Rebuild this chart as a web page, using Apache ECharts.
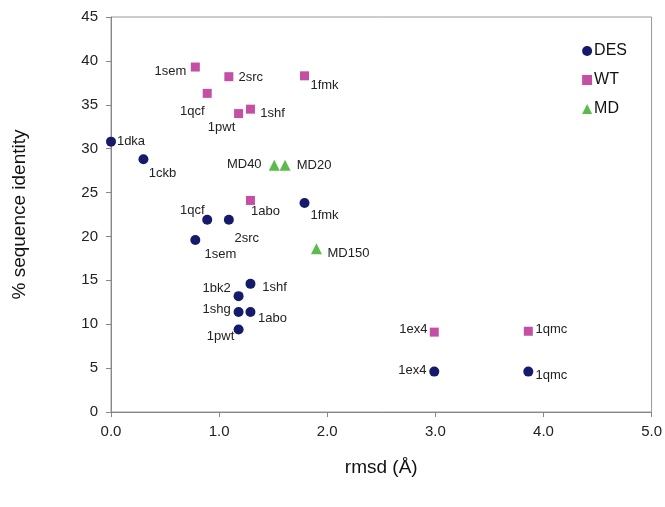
<!DOCTYPE html>
<html><head><meta charset="utf-8">
<script src="https://cdn.jsdelivr.net/npm/echarts@6/dist/echarts.min.js"></script>
<style>html,body{margin:0;padding:0;background:#fff}#c{width:665px;height:507px}</style>
</head><body><div id="c"></div>
<script>
// Data
const desNames = ['1dka','1ckb','1qcf','2src','1sem','1fmk','1bk2','1shf','1shg','1abo','1pwt','1ex4','1qmc'];
const desX = [0.0, 0.30, 0.89, 1.09, 0.78, 1.79, 1.18, 1.29, 1.18, 1.29, 1.18, 2.99, 3.86];
const desY = [30.8, 28.8, 21.9, 21.9, 19.6, 23.8, 13.2, 14.6, 11.4, 11.4, 9.4, 4.6, 4.6];

const wtNames = ['1sem','2src','1fmk','1qcf','1pwt','1shf','1abo','1ex4','1qmc'];
const wtX = [0.78, 1.09, 1.79, 0.89, 1.18, 1.29, 1.29, 2.99, 3.86];
const wtY = [39.3, 38.2, 38.3, 36.3, 34.0, 34.5, 24.1, 9.1, 9.2];

const mdNames = ['MD40','MD20','MD150'];
const mdX = [1.51, 1.61, 1.90];
const mdY = [28.1, 28.1, 18.6];

const xTicks = [0, 1, 2, 3, 4, 5];
const yTicks = [0, 5, 10, 15, 20, 25, 30, 35, 40, 45];

// Label placement (pixel offsets from marker centre)
const desLabelOff = {'1dka':[20,0],'1ckb':[19,14],'1qcf':[-15,-9],'2src':[18,19],'1sem':[25,14],'1fmk':[20,12],
  '1bk2':[-22,-8],'1shf':[24,4],'1shg':[-22,-3],'1abo':[22,6],'1pwt':[-18,7],'1ex4':[-22,-1],'1qmc':[23,4]};
const wtLabelOff = {'1sem':[-25,4],'2src':[22,1],'1fmk':[20,10],'1qcf':[-15,18],'1pwt':[-17,14],'1shf':[22,4],
  '1abo':[15,11],'1ex4':[-21,-3],'1qmc':[23,-2]};
const mdLabelOff = {'MD40':[-30,-1],'MD20':[29,0],'MD150':[32,5]};

const FONT = 'Liberation Sans, Arial, sans-serif';

function build(names, xs, ys, offs) {
  return names.map((n, i) => ({
    name: n, value: [xs[i], ys[i]],
    label: { show: true, position: 'inside', formatter: n, offset: offs[n],
      color: '#222', fontSize: 13, fontFamily: FONT, align: 'center', verticalAlign: 'middle' }
  }));
}

const chart = echarts.init(document.getElementById('c'), null, {renderer: 'canvas'});
chart.setOption({
  animation: false,
  backgroundColor: '#fff',
  grid: { left: 111, right: 12, top: 17, bottom: 95, show: true, borderColor: '#999', borderWidth: 1, backgroundColor: 'transparent' },
  legend: {
    orient: 'vertical', right: 33, top: 38, itemGap: 13, itemWidth: 10, itemHeight: 10,
    align: 'left',
    textStyle: { fontSize: 16, fontFamily: FONT, color: '#111', padding: [0,0,0,-3] },
    data: [
      { name: 'DES', icon: 'circle' },
      { name: 'WT', icon: 'rect' },
      { name: 'MD', icon: 'triangle' }
    ]
  },
  xAxis: {
    type: 'value', min: xTicks[0], max: xTicks[xTicks.length-1], interval: 1,
    name: 'rmsd (Å)', nameLocation: 'middle', nameGap: 46,
    nameTextStyle: { fontSize: 19, fontFamily: FONT, color: '#111' },
    axisLine: { lineStyle: { color: '#888' } },
    axisTick: { show: true, length: 5, lineStyle: { color: '#888' } },
    axisLabel: { fontSize: 15, fontFamily: FONT, color: '#222', margin: 12, formatter: v => v.toFixed(1) },
    splitLine: { show: false }
  },
  yAxis: {
    type: 'value', min: yTicks[0], max: yTicks[yTicks.length-1], interval: 5,
    name: '% sequence identity', nameLocation: 'middle', nameGap: 82, nameRotate: 90,
    nameTextStyle: { fontSize: 19, fontFamily: FONT, color: '#111' },
    axisLine: { show: true, lineStyle: { color: '#888' } },
    axisTick: { show: true, length: 5, lineStyle: { color: '#888' } },
    axisLabel: { fontSize: 15, fontFamily: FONT, color: '#222', margin: 13 },
    splitLine: { show: false }
  },
  series: [
    { name: 'DES', type: 'scatter', symbol: 'circle', symbolSize: 10,
      itemStyle: { color: '#151a6b', opacity: 1 }, data: build(desNames, desX, desY, desLabelOff) },
    { name: 'WT', type: 'scatter', symbol: 'rect', symbolSize: 9,
      itemStyle: { color: '#c64fa6', opacity: 1 }, data: build(wtNames, wtX, wtY, wtLabelOff) },
    { name: 'MD', type: 'scatter', symbol: 'triangle', symbolSize: 11,
      itemStyle: { color: '#5cbb4a', opacity: 1 }, data: build(mdNames, mdX, mdY, mdLabelOff) }
  ]
});
</script></body></html>
